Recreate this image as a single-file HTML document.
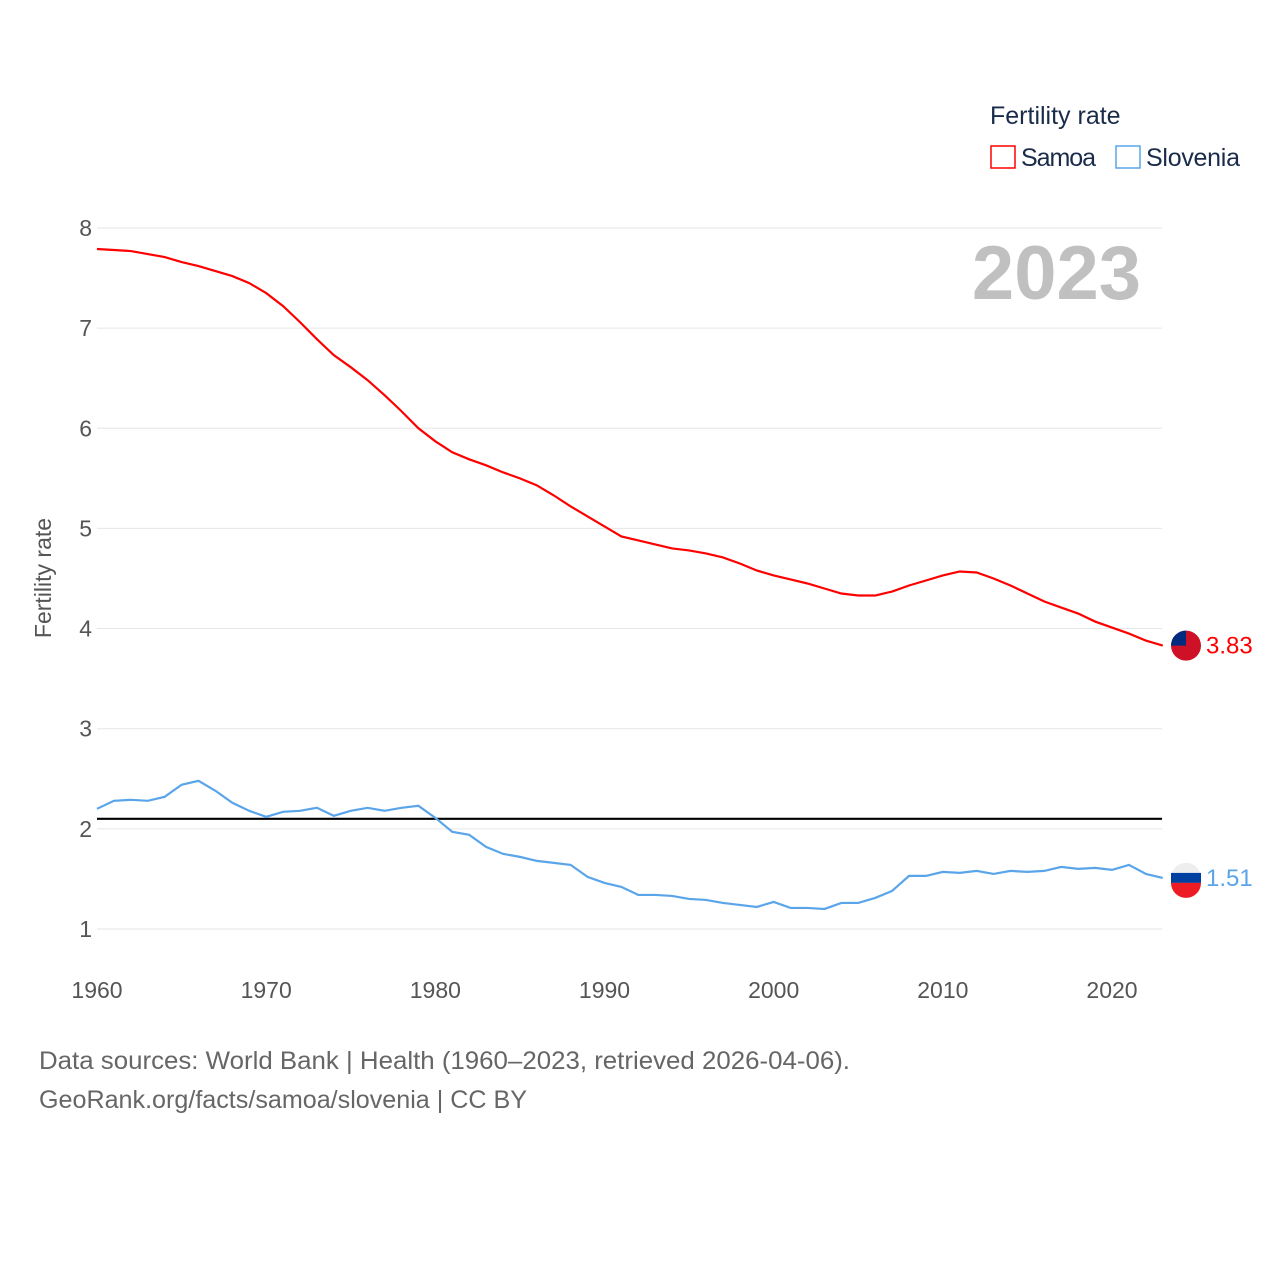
<!DOCTYPE html>
<html><head><meta charset="utf-8"><style>
body{margin:0;background:#fff;font-family:"Liberation Sans",sans-serif}
svg{display:block}
</style></head><body>
<svg id="chart" width="1280" height="1280">
<text x="990" y="124" font-size="25" fill="#1a2b4a">Fertility rate</text>
<g><rect x="991" y="146" width="24" height="22" fill="none" stroke="#ff0000" stroke-width="1.5"/><text x="1021" y="166" font-size="25" fill="#1a2b4a" textLength="75">Samoa</text></g>
<g><rect x="1116" y="146" width="24" height="22" fill="none" stroke="#5aa5ea" stroke-width="1.5"/><text x="1146" y="166" font-size="25" fill="#1a2b4a" textLength="94">Slovenia</text></g>
<text x="1141" y="299" font-size="76" font-weight="bold" fill="#c0c0c0" text-anchor="end">2023</text>
<text transform="translate(51,578) rotate(-90)" font-size="23" fill="#555" text-anchor="middle">Fertility rate</text>
<g id="grid"></g><g id="series"></g>
<text x="39" y="1069" font-size="25" fill="#666" textLength="811" lengthAdjust="spacingAndGlyphs">Data sources: World Bank | Health (1960–2023, retrieved 2026-04-06).</text>
<text x="39" y="1108" font-size="25" fill="#666" textLength="488" lengthAdjust="spacingAndGlyphs">GeoRank.org/facts/samoa/slovenia | CC BY</text>
</svg>
<script>
const years=[];for(let y=1960;y<=2023;y++)years.push(y);
const samoa=[7.79,7.78,7.77,7.74,7.71,7.66,7.62,7.57,7.52,7.45,7.35,7.22,7.06,6.89,6.73,6.61,6.48,6.33,6.17,6.0,5.87,5.76,5.69,5.63,5.56,5.50,5.43,5.33,5.22,5.12,5.02,4.92,4.88,4.84,4.80,4.78,4.75,4.71,4.65,4.58,4.53,4.49,4.45,4.40,4.35,4.33,4.33,4.37,4.43,4.48,4.53,4.57,4.56,4.50,4.43,4.35,4.27,4.21,4.15,4.07,4.01,3.95,3.88,3.83];
const slovenia=[2.20,2.28,2.29,2.28,2.32,2.44,2.48,2.38,2.26,2.18,2.12,2.17,2.18,2.21,2.13,2.18,2.21,2.18,2.21,2.23,2.11,1.97,1.94,1.82,1.75,1.72,1.68,1.66,1.64,1.52,1.46,1.42,1.34,1.34,1.33,1.30,1.29,1.26,1.24,1.22,1.27,1.21,1.21,1.20,1.26,1.26,1.31,1.38,1.53,1.53,1.57,1.56,1.58,1.55,1.58,1.57,1.58,1.62,1.60,1.61,1.59,1.64,1.55,1.51];
const yTicks=[1,2,3,4,5,6,7,8];
const xTicks=[1960,1970,1980,1990,2000,2010,2020];
const refLine=[2.1];
const NS='http://www.w3.org/2000/svg';
const X=y=>97+(y-1960)*(1015/60);
const Y=v=>228+(8-v)*100.14;
function mk(t,a,p){const e=document.createElementNS(NS,t);for(const k in a)e.setAttribute(k,a[k]);p.appendChild(e);return e;}
const g=document.getElementById('grid'),s=document.getElementById('series');
yTicks.forEach(v=>{
 const l=mk('line',{x1:97,x2:1162,y1:Y(v),y2:Y(v),stroke:'#e6e6e6','stroke-width':1},g);
 
 
 const t=mk('text',{x:92,y:Y(v)+8,'font-size':23,fill:'#555','text-anchor':'end'},g);t.textContent=v;
 
 
});
xTicks.forEach(v=>{
 const t=mk('text',{x:X(v),y:998,'font-size':23,fill:'#555','text-anchor':'middle'},g);t.textContent=v;
 
 
});
refLine.forEach(v=>{
 const l=mk('line',{x1:97,x2:1162,y1:Y(v),y2:Y(v),stroke:'#000','stroke-width':2.2},g);
 
 
});
function series(d,c,n,flag){
 const p=mk('polyline',{points:d.map((v,i)=>X(years[i])+','+Y(v)).join(' '),fill:'none',stroke:c,'stroke-width':2.2},s);
 
 
 const last=d[d.length-1],cy=Y(last);
 const f=mk('g',{},s);
 
 
 if(flag==='ws'){mk('circle',{cx:1186,cy:cy,r:15,fill:'#ce1126'},f);mk('path',{d:`M1171 ${cy} A15 15 0 0 1 1186 ${cy-15} L1186 ${cy} Z`,fill:'#002b7f'},f);}
 else{mk('circle',{cx:1186,cy:cy,r:15,fill:'#eee'},f);mk('rect',{x:1171,y:cy-5,width:30,height:10,fill:'#0040a0'},f);mk('path',{d:`M1171 ${cy+5} L1201 ${cy+5} A15 15 0 0 1 1171 ${cy+5} Z`,fill:'#ed1c24'},f);}
 const t=mk('text',{x:1206,y:cy+8,'font-size':24,fill:c},s);t.textContent=last.toFixed(2);
 
 
}
series(samoa,'#ff0000','samoa','ws');
series(slovenia,'#5aa5ea','slovenia','si');
</script>
</body></html>
